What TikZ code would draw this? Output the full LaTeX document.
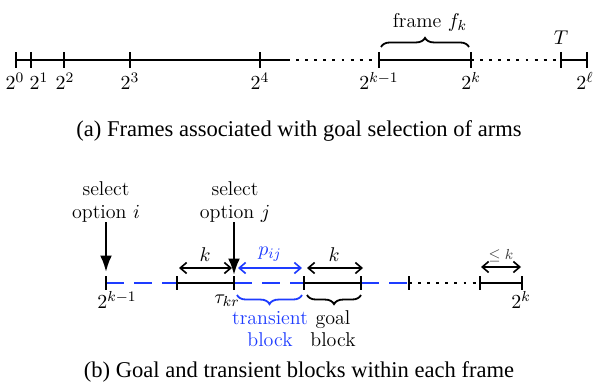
\documentclass[tikz,border=0pt]{standalone}
\usepackage{fontspec}
\newfontfamily\capfont{Liberation Serif}
\usetikzlibrary{arrows.meta,decorations.pathreplacing}
\definecolor{tblue}{RGB}{30,60,255}
\begin{document}
\begin{tikzpicture}[x=0.55pt,y=-0.55pt,
  solidseg/.style={line width=1.5pt},
  dotseg/.style={line width=1.5pt,dash pattern=on 1.6pt off 3.4pt},
  blueseg/.style={line width=1.5pt,tblue,dash pattern=on 10pt off 5.5pt},
  tickmark/.style={line width=1.5pt},
  lbl/.style={inner sep=1pt,font=\fontsize{11}{12}\selectfont},
  twolbl/.style={align=center,inner sep=1pt,font=\fontsize{11}{12.2}\selectfont},
  selarrow/.style={line width=1.3pt,-{Latex[length=9pt,width=6.5pt]}},
  span/.style={line width=0.9pt,{Straight Barb[length=3.5pt,width=6pt]}-{Straight Barb[length=3.5pt,width=6pt]}},
  bracedec/.style={decorate,decoration={brace,amplitude=5pt},line width=1pt},
  caption/.style={inner sep=0pt,font=\capfont\fontsize{12.4}{14}\selectfont}]
\useasboundingbox (0,0) rectangle (598,390);
% ---------- top: frames ----------
\coordinate (t0) at (16,60);
\coordinate (t1) at (31,60);
\coordinate (t2) at (64,60);
\coordinate (t3) at (130,60);
\coordinate (t4) at (260,60);
\coordinate (te) at (287,60);
\coordinate (tk1) at (379,60);
\coordinate (tk) at (471,60);
\coordinate (tT) at (561,60);
\coordinate (tl) at (587,60);
\draw[solidseg] (t0) -- (te);
\draw[dotseg] (te) -- (tk1);
\draw[solidseg] (tk1) -- (tk);
\draw[dotseg] (tk) -- (tT);
\draw[solidseg] (tT) -- (tl);
\foreach \c in {t0,t1,t2,t3,t4,tk1,tk,tT,tl}
  \draw[tickmark] ([yshift=8*0.55pt]\c) -- ([yshift=-8*0.55pt]\c);
\node[lbl] (l0) at (15,81) {$2^0$};
\node[lbl] (l1) at (39,81) {$2^1$};
\node[lbl] (l2) at (65,81) {$2^2$};
\node[lbl] (l3) at (130,81) {$2^3$};
\node[lbl] (l4) at (260,81) {$2^4$};
\node[lbl] (lk1) at (379,81) {$2^{k-1}$};
\node[lbl] (lk) at (471,81) {$2^{k}$};
\node[lbl] (lT) at (561,38) {$T$};
\node[lbl] (ll) at (585,81) {$2^{\ell}$};
\draw[bracedec] (381,47) -- (469,47);
\node[lbl] (frame) at (430,22) {frame $f_k$};
\node[caption] (capa) at (299,131) {(a) Frames associated with goal selection of arms};
% ---------- bottom: blocks ----------
\coordinate (b0) at (106,283);
\coordinate (b1) at (177,283);
\coordinate (b2) at (234,283);
\coordinate (b3) at (304,283);
\coordinate (b4) at (361,283);
\coordinate (b5) at (409,283);
\coordinate (b6) at (480,283);
\coordinate (b7) at (522,283);
\draw[blueseg] (b0) -- (b1);
\draw[solidseg] (b1) -- (b2);
\draw[blueseg] (b2) -- (b3);
\draw[solidseg] (b3) -- (b4);
\draw[blueseg] (b4) -- (b5);
\draw[dotseg] (b5) -- (b6);
\draw[solidseg] (b6) -- (b7);
\foreach \c in {b0,b1,b2,b3,b4,b5,b6,b7}
  \draw[tickmark] ([yshift=7*0.55pt]\c) -- ([yshift=-7*0.55pt]\c);
% spans
\coordinate (k1a) at (179,268); \coordinate (k1b) at (232,268);
\draw[span] (k1a) -- (k1b);
\node[lbl] (k1) at (205,255) {$k$};
\coordinate (pa) at (238,268); \coordinate (pb) at (302,268);
\draw[span,tblue] (pa) -- (pb);
\node[lbl,text=tblue] (pij) at (270,254) {$p_{ij}$};
\coordinate (k2a) at (307,268); \coordinate (k2b) at (363,268);
\draw[span] (k2a) -- (k2b);
\node[lbl] (k2) at (334,255) {$k$};
\coordinate (k3a) at (481,267); \coordinate (k3b) at (521,267);
\draw[span] (k3a) -- (k3b);
\node[inner sep=1pt,font=\fontsize{8.5}{10}\selectfont,text=black!75] (k3) at (501,256) {$\le k$};
% selections
\node[twolbl] (seli) at (106,202) {select\\option $i$};
\node[twolbl] (selj) at (235,202) {select\\option $j$};
\coordinate (ai) at (106,272);
\coordinate (aj) at (234,275);
\draw[selarrow] (seli.south -| ai) ++(0,-2) -- (ai);
\draw[selarrow] (selj.south -| aj) ++(0,-2) -- (aj);
% labels under line
\node[lbl] (bk1) at (117,300) {$2^{k-1}$};
\node[lbl] (tau) at (227,301) {$\tau_{kr}$};
\node[lbl] (bk) at (521,300) {$2^{k}$};
\draw[bracedec,tblue] (302,295) -- (237,295);
\draw[bracedec] (361,295) -- (307,295);
\node[twolbl,text=tblue] (trans) at (270,329) {transient\\block};
\node[twolbl] (goal) at (333,329) {goal\\block};
\node[caption] (capb) at (299,372) {(b) Goal and transient blocks within each frame};
\end{tikzpicture}
\end{document}
